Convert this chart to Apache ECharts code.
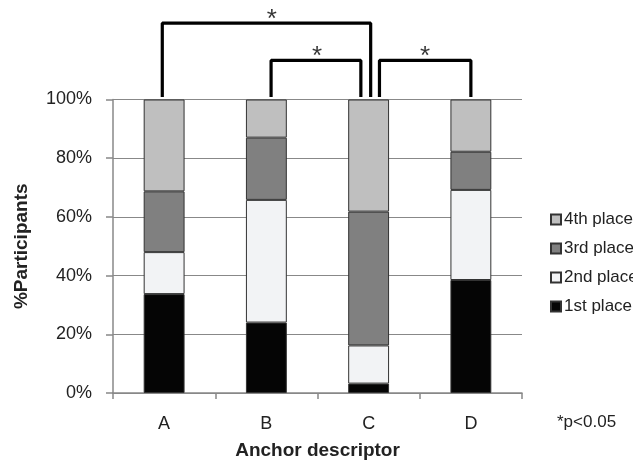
<!DOCTYPE html>
<html><head><meta charset="utf-8">
<script src="https://cdn.jsdelivr.net/npm/echarts@6/dist/echarts.min.js"></script>
<style>html,body{margin:0;padding:0;background:#fff}#c{width:633px;height:460px}</style>
</head><body><div id="c"></div>
<script>
const categories = ['A', 'B', 'C', 'D'];
const first  = [33.7, 24.0, 3.2, 38.5];
const second = [14.3, 41.8, 13.0, 30.7];
const third  = [20.7, 21.2, 45.6, 13.0];
const fourth = [31.3, 13.0, 38.2, 17.8];
const yTicks = [0, 20, 40, 60, 80, 100];
// significance brackets in (category-position, percent) units
const bracketAC = [[0.482, 100.85], [0.482, 126], [2.52, 126], [2.52, 100.85]];
const bracketBC = [[1.546, 100.85], [1.546, 113.3], [2.424, 113.3], [2.424, 100.85]];
const bracketCD = [[2.606, 100.85], [2.606, 113.3], [3.50, 113.3], [3.50, 100.85]];
const stars = [[1.553, 127.3], [1.996, 114.6], [3.053, 114.6]];
const note = '*p<0.05';

const font = 'Liberation Sans, Arial, sans-serif';
const chart = echarts.init(document.getElementById('c'), null, {renderer: 'canvas'});
function barSeries(name, data, color) {
  return {
    name, type: 'bar', stack: 'all', data, barWidth: '40%',
    xAxisIndex: 0, yAxisIndex: 0,
    itemStyle: {color, borderColor: '#333', borderWidth: 1},
    emphasis: {disabled: true}
  };
}
function bracket(data) {
  return {
    type: 'line', data, xAxisIndex: 1, yAxisIndex: 0, clip: false,
    symbol: 'none', silent: true,
    lineStyle: {color: '#000', width: 3.2}
  };
}
chart.setOption({
  animation: false,
  grid: {left: 113, right: 111, top: 99.5, bottom: 67, containLabel: false, outerBoundsMode: 'none'},
  legend: {
    orient: 'vertical', left: 550, top: 211, padding: 0,
    data: ['4th place', '3rd place', '2nd place', '1st place'],
    itemWidth: 10, itemHeight: 10, itemGap: 12,
    icon: 'rect',
    textStyle: {fontFamily: font, fontSize: 17, color: '#222', padding: [0, 0, 0, -2]},
    selectedMode: false
  },
  xAxis: [{
    type: 'category', data: categories,
    axisLine: {lineStyle: {color: '#888', width: 1.5}},
    axisTick: {show: true, length: 6, lineStyle: {color: '#888', width: 1.5}},
    axisLabel: {fontFamily: font, fontSize: 18, color: '#222', margin: 22},
    name: 'Anchor descriptor', nameLocation: 'middle', nameGap: 48,
    nameTextStyle: {fontFamily: font, fontSize: 19, fontWeight: 'bold', color: '#222'}
  }, {
    type: 'value', min: 0, max: 4, show: false
  }],
  yAxis: {
    type: 'value', min: 0, max: 100, interval: 20,
    axisLine: {show: true, lineStyle: {color: '#888', width: 1.5}},
    axisTick: {show: true, length: 7, lineStyle: {color: '#888', width: 1.5}},
    splitLine: {show: true, lineStyle: {color: '#888', width: 1.2}},
    axisLabel: {fontFamily: font, fontSize: 18, color: '#222', margin: 21,
      formatter: v => yTicks.includes(v) ? v + '%' : ''},
    name: '%Participants', nameLocation: 'middle', nameGap: 82,
    nameTextStyle: {fontFamily: font, fontSize: 19, fontWeight: 'bold', color: '#222'}
  },
  series: [
    barSeries('1st place', first, '#050505'),
    barSeries('2nd place', second, '#f2f3f5'),
    barSeries('3rd place', third, '#808080'),
    barSeries('4th place', fourth, '#bfbfbf'),
    bracket(bracketAC), bracket(bracketBC), bracket(bracketCD),
    {
      type: 'scatter', data: stars, xAxisIndex: 1, yAxisIndex: 0, clip: false,
      symbolSize: 1, itemStyle: {color: 'rgba(0,0,0,0)'}, silent: true,
      label: {show: true, position: 'inside', formatter: '*', fontFamily: font,
        fontSize: 26, color: '#000'}
    }
  ],
  graphic: [{
    type: 'text', left: 557, top: 414,
    style: {text: note, fontFamily: font, fontSize: 17, fill: '#222'}
  }]
});
</script></body></html>
